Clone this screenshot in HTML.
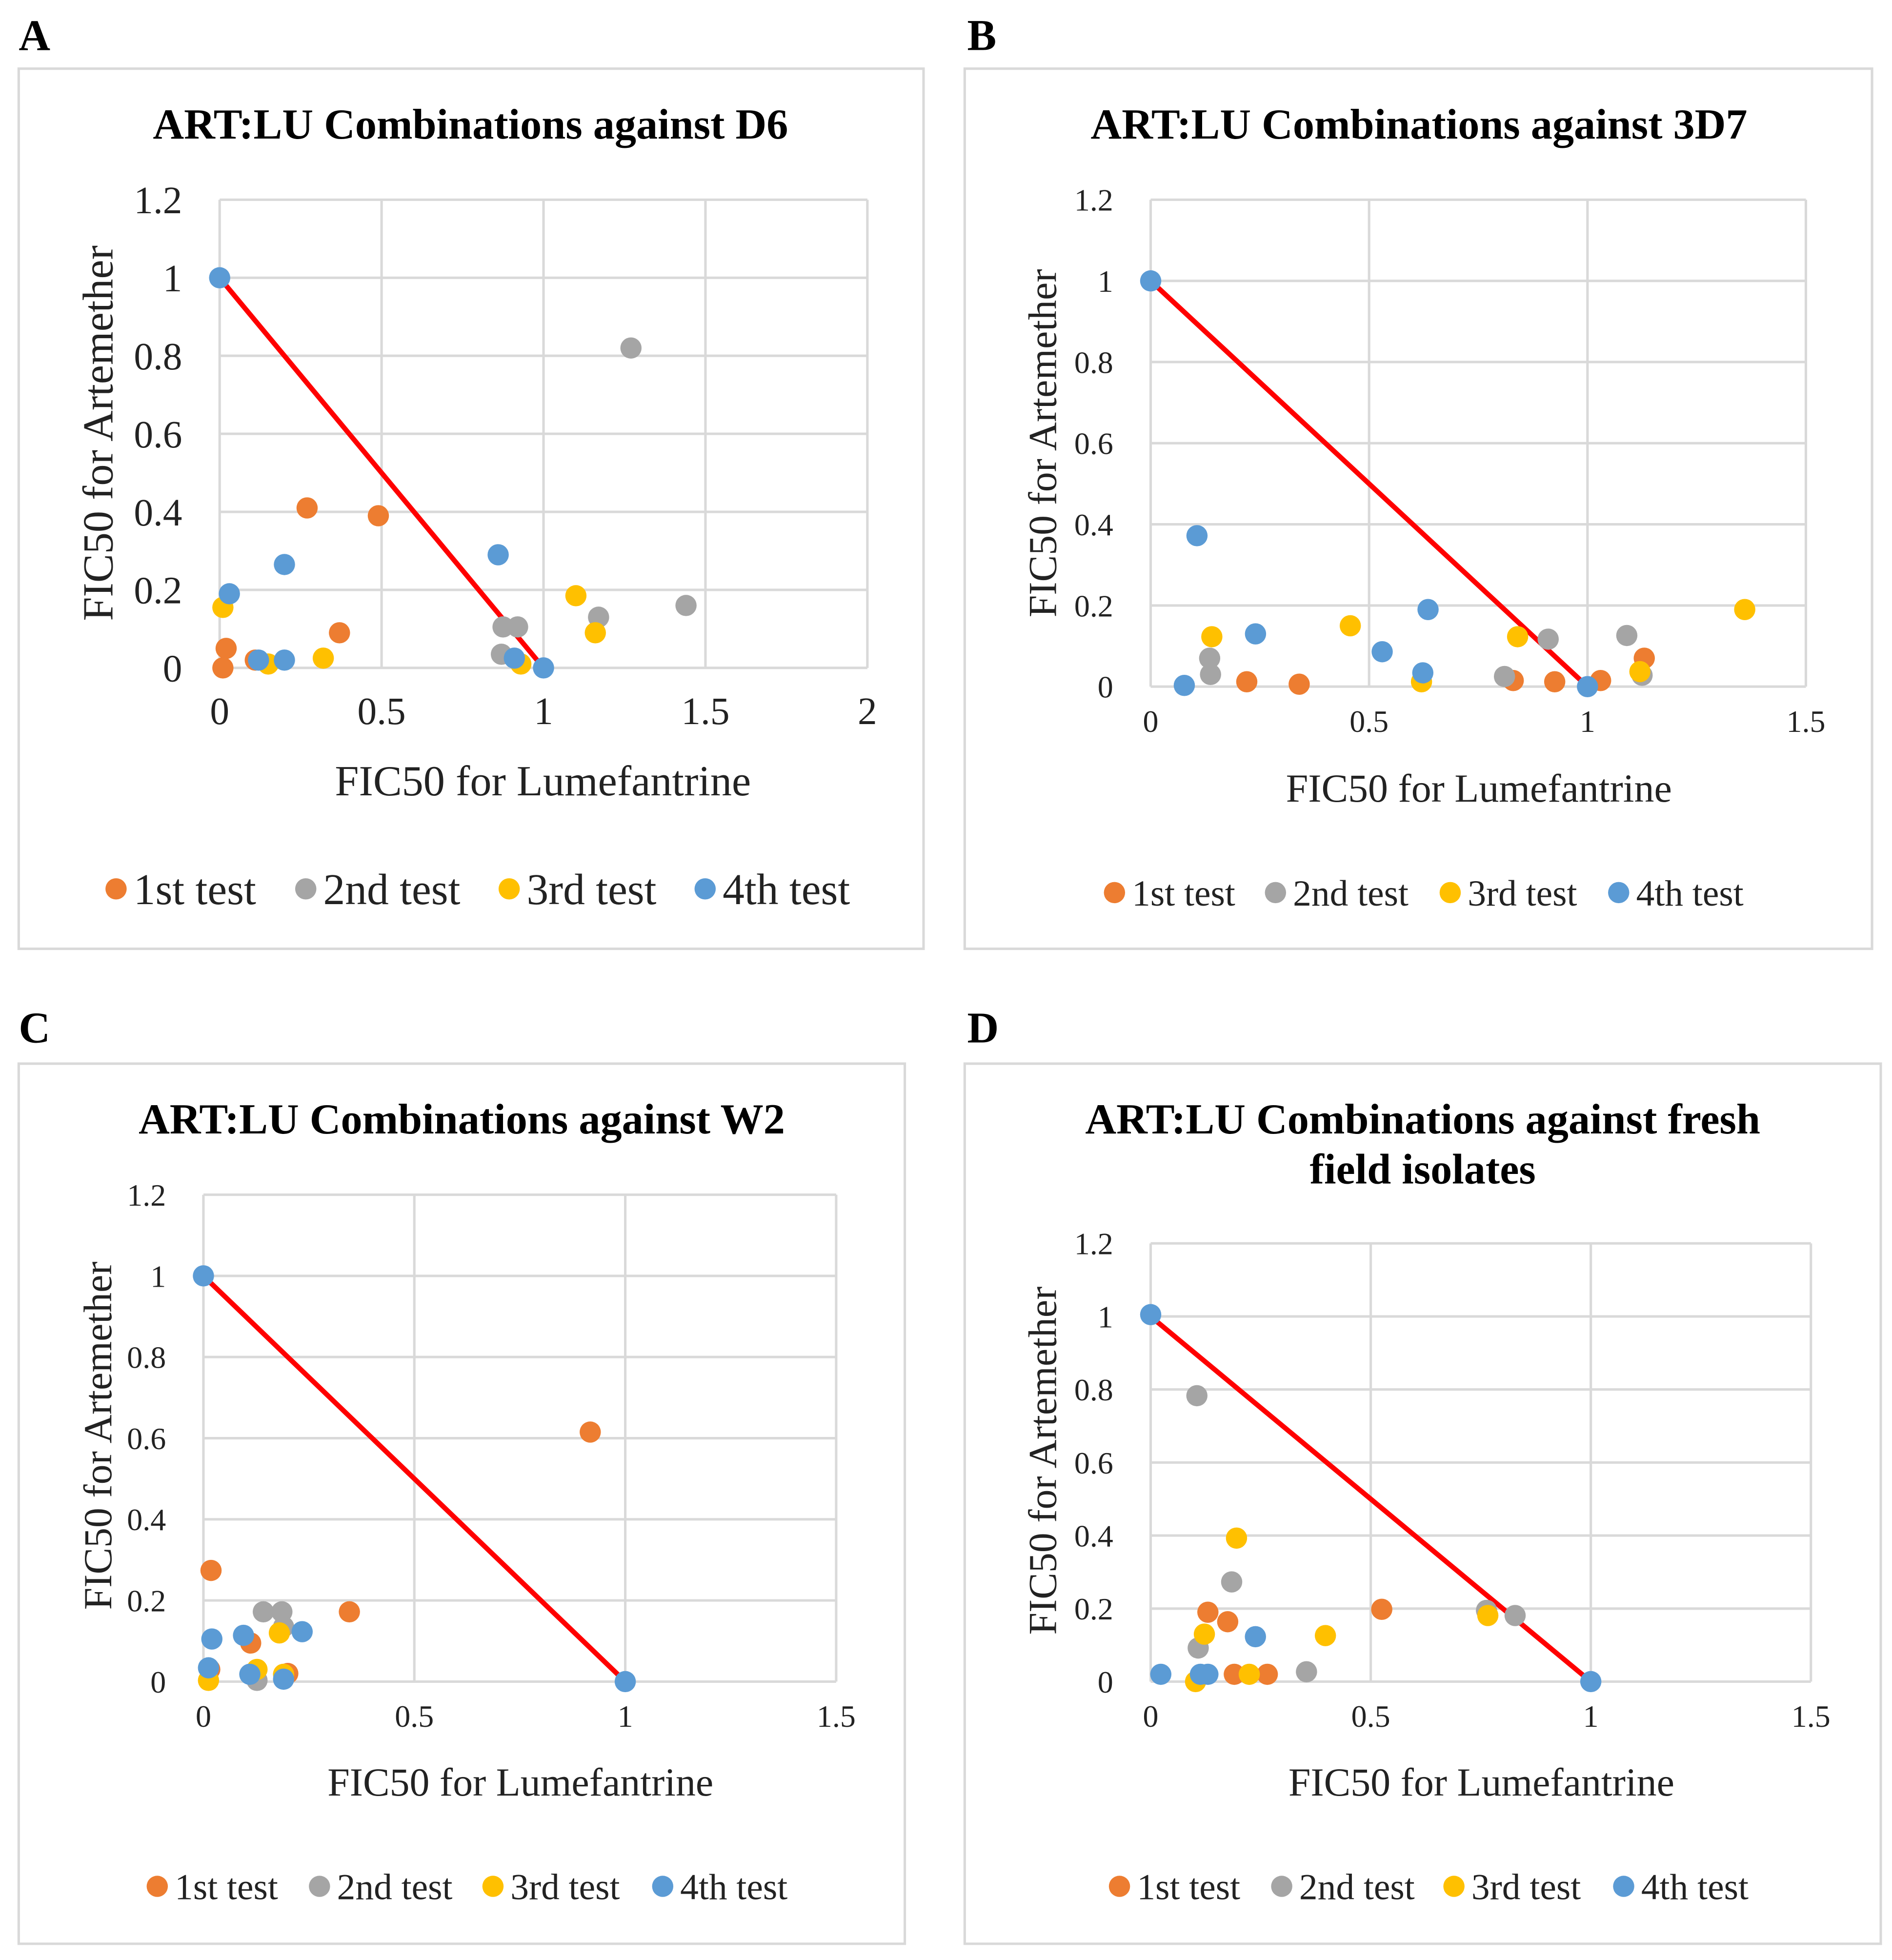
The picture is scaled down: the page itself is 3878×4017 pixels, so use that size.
<!DOCTYPE html>
<html><head><meta charset="utf-8"><style>
html,body{margin:0;padding:0;background:#fff;}
svg{display:block;font-family:"Liberation Serif",serif;}
</style></head><body>
<svg id="root" width="3878" height="4017" viewBox="0 0 1516 1570" preserveAspectRatio="none" xmlns="http://www.w3.org/2000/svg"></svg>
<script>
// ---- data ----
const seriesNames = ["1st test","2nd test","3rd test","4th test"];
const seriesColors = ["#ED7D31","#A5A5A5","#FFC000","#5B9BD5"];

const aOrangeX=[0.01,0.02,0.11,0.27,0.37,0.49], aOrangeY=[0,0.05,0.02,0.41,0.09,0.39];
const aGrayX=[1.27,0.875,0.92,0.87,1.17,1.44], aGrayY=[0.82,0.105,0.105,0.035,0.13,0.16];
const aYellowX=[0.01,0.15,0.32,1.10,1.16,0.93], aYellowY=[0.155,0.01,0.025,0.185,0.09,0.01];
const aBlueX=[0,0.03,0.12,0.2,0.2,0.86,0.91,1], aBlueY=[1,0.19,0.02,0.02,0.265,0.29,0.025,0];

const bOrangeX=[0.22,0.34,0.83,0.925,1.03,1.13], bOrangeY=[0.012,0.006,0.015,0.012,0.015,0.07];
const bGrayX=[0.135,0.137,0.81,0.91,1.09,1.125], bGrayY=[0.07,0.03,0.025,0.117,0.126,0.028];
const bYellowX=[0.14,0.457,0.62,0.84,1.12,1.36], bYellowY=[0.123,0.15,0.012,0.123,0.037,0.19];
const bBlueX=[0,0.106,0.077,0.24,0.53,0.635,0.623,1], bBlueY=[1,0.372,0.003,0.13,0.086,0.19,0.034,0];

const cOrangeX=[0.018,0.112,0.2,0.346,0.917,0.015], cOrangeY=[0.274,0.095,0.02,0.172,0.615,0.03];
const cGrayX=[0.142,0.186,0.127,0.19], cGrayY=[0.172,0.172,0.003,0.135];
const cYellowX=[0.012,0.127,0.18,0.19], cYellowY=[0.003,0.03,0.12,0.018];
const cBlueX=[0,0.02,0.012,0.095,0.11,0.234,0.19,1], cBlueY=[1,0.105,0.034,0.114,0.018,0.123,0.006,0];

const dOrangeX=[0.13,0.175,0.19,0.265,0.525], dOrangeY=[0.19,0.164,0.02,0.02,0.198];
const dGrayX=[0.105,0.184,0.108,0.354,0.763,0.828], dGrayY=[0.783,0.273,0.092,0.027,0.195,0.181];
const dYellowX=[0.195,0.122,0.102,0.224,0.397,0.766], dYellowY=[0.393,0.13,0,0.02,0.126,0.181];
const dBlueX=[0,0.023,0.113,0.13,0.238,1], dBlueY=[1.005,0.02,0.02,0.02,0.123,0];

const yTicks=[0,0.2,0.4,0.6,0.8,1,1.2];
const yTickLabels=["0","0.2","0.4","0.6","0.8","1","1.2"];
const xTicksA=[0,0.5,1,1.5,2], xTickLabelsA=["0","0.5","1","1.5","2"];
const xTicksB=[0,0.5,1,1.5], xTickLabelsB=["0","0.5","1","1.5"];
const lineX=[0,1], lineY=[1,0];

// ---- layout ----
const panels=[
 {id:"a",letter:"A",lx:15,ly:40,box:[15,55,725,705],x0:176,x1:695,xmax:2,y0:535,y1:160,title:["ART:LU Combinations against D6"],ty:100,tcx:377,
  tick:31,axis:34.5,leg:35,xly:625,xlx:435,ylx:78,yly:347,legY:712,legX:[93,245,408,565],xt:xTicksA,xl:xTickLabelsA,
  data:[[aOrangeX,aOrangeY],[aGrayX,aGrayY],[aYellowX,aYellowY],[aBlueX,aBlueY]]},
 {id:"b",letter:"B",lx:775,ly:40,box:[773,55,727,705],x0:922,x1:1447,xmax:1.5,y0:550,y1:160,title:["ART:LU Combinations against 3D7"],ty:100,tcx:1137,
  tick:25,axis:32,leg:29.5,xly:631,xlx:1185,ylx:835,yly:355,legY:715,legX:[893,1022,1162,1297],xt:xTicksB,xl:xTickLabelsB,
  data:[[bOrangeX,bOrangeY],[bGrayX,bGrayY],[bYellowX,bYellowY],[bBlueX,bBlueY]]},
 {id:"c",letter:"C",lx:15,ly:835,box:[15,852,710,705],x0:163,x1:670,xmax:1.5,y0:1347,y1:957,title:["ART:LU Combinations against W2"],ty:897,tcx:370,
  tick:25,axis:32,leg:29.5,xly:1427,xlx:417,ylx:78,yly:1150,legY:1511,legX:[126,256,395,531],xt:xTicksB,xl:xTickLabelsB,
  data:[[cOrangeX,cOrangeY],[cGrayX,cGrayY],[cYellowX,cYellowY],[cBlueX,cBlueY]]},
 {id:"d",letter:"D",lx:775,ly:835,box:[773,852,734,705],x0:922,x1:1451,xmax:1.5,y0:1347,y1:996,title:["ART:LU Combinations against fresh","field isolates"],ty:897,tcx:1140,
  tick:25,axis:32,leg:29.5,xly:1427,xlx:1187,ylx:835,yly:1170,legY:1511,legX:[897,1027,1165,1301],xt:xTicksB,xl:xTickLabelsB,
  data:[[dOrangeX,dOrangeY],[dGrayX,dGrayY],[dYellowX,dYellowY],[dBlueX,dBlueY]]}
];
const NS="http://www.w3.org/2000/svg";
const root=document.getElementById("root");
function mk(tag,attrs,parent,text){const e=document.createElementNS(NS,tag);for(const k in attrs)e.setAttribute(k,attrs[k]);if(text!==undefined)e.textContent=text;parent.appendChild(e);return e;}

panels.forEach(p=>{
  const g=mk("g",{},root);
  
  
  const sx=v=>p.x0+(p.x1-p.x0)*v/p.xmax;
  const sy=v=>p.y0+(p.y1-p.y0)*v/1.2;
  const L=mk("text",{x:p.lx,y:p.ly,"font-size":35,"font-weight":"bold"},g,p.letter);
  
  
  const b=mk("rect",{x:p.box[0],y:p.box[1],width:p.box[2],height:p.box[3],fill:"#fff",stroke:"#d9d9d9","stroke-width":2},g);
  
  
  p.title.forEach((t,i)=>{
    const te=mk("text",{x:p.tcx,y:p.ty+i*40+11,"font-size":34.5,"font-weight":"bold","text-anchor":"middle"},g,t);
    
    
  });
  yTicks.forEach((v,i)=>{
    const ln=mk("line",{x1:p.x0,x2:p.x1,y1:sy(v),y2:sy(v),stroke:"#d9d9d9","stroke-width":2},g);
    
    
    const t=mk("text",{x:p.x0-30,y:sy(v)+p.tick*0.35,"font-size":p.tick,"text-anchor":"end",fill:"#222"},g,yTickLabels[i]);
    
    
  });
  p.xt.forEach((v,i)=>{
    const ln=mk("line",{x1:sx(v),x2:sx(v),y1:sy(0),y2:sy(1.2),stroke:"#d9d9d9","stroke-width":2},g);
    
    
    const t=mk("text",{x:sx(v),y:p.y0+p.tick*1.45,"font-size":p.tick,"text-anchor":"middle",fill:"#222"},g,p.xl[i]);
    
    
  });
  const xt=mk("text",{x:p.xlx,y:p.xly+p.axis*0.35,"font-size":p.axis,"text-anchor":"middle",fill:"#222"},g,"FIC50 for Lumefantrine");
  
  
  const yt=mk("text",{x:0,y:0,"font-size":p.axis,"text-anchor":"middle",fill:"#222",transform:`translate(${p.ylx+p.axis*0.35},${p.yly}) rotate(-90)`},g,"FIC50 for Artemether");
  
  
  const rl=mk("line",{x1:sx(lineX[0]),y1:sy(lineY[0]),x2:sx(lineX[1]),y2:sy(lineY[1]),stroke:"#FF0000","stroke-width":4},g);
  
  
  p.data.forEach((d,si)=>{
    d[0].forEach((xv,k)=>{
      const c=mk("circle",{cx:sx(xv),cy:sy(d[1][k]),r:8.5,fill:seriesColors[si]},g);
      
      
    });
  });
  seriesNames.forEach((n,si)=>{
    const lg=mk("g",{},g);
    
    
    mk("circle",{cx:p.legX[si],cy:p.legY,r:8.5,fill:seriesColors[si]},lg);
    mk("text",{x:p.legX[si]+14,y:p.legY+p.leg*0.35,"font-size":p.leg,fill:"#222"},lg,n);
  });
});
</script>
</body></html>
